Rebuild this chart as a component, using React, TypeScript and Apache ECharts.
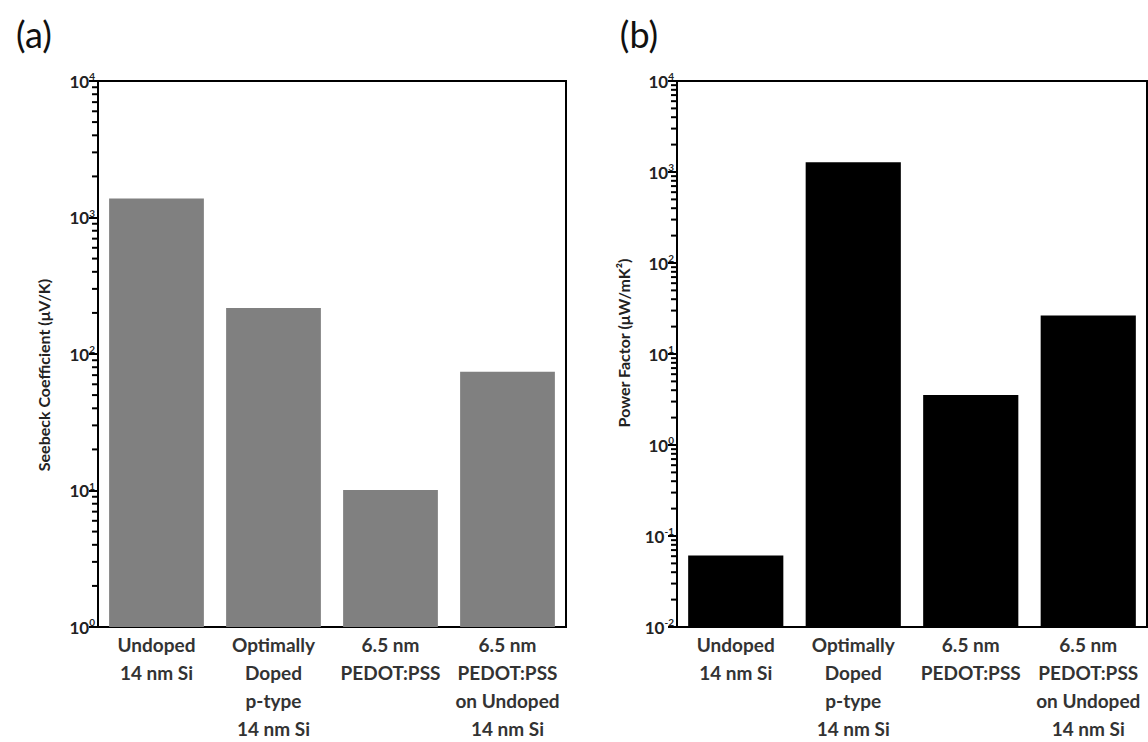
import React, { useEffect, useRef } from "react";
import * as echarts from "echarts";

const categories = [
  "Undoped\n14 nm Si",
  "Optimally\nDoped\np-type\n14 nm Si",
  "6.5 nm\nPEDOT:PSS",
  "6.5 nm\nPEDOT:PSS\non Undoped\n14 nm Si",
];
const seebeck = [1380, 217, 10.1, 74];
const powerFactor = [0.061, 1280, 3.54, 26.5];
const axisMinA = 1;
const axisMaxA = 10000;
const axisMinB = 0.01;
const axisMaxB = 10000;
const decadesA = [0, 1, 2, 3];
const decadesB = [-2, -1, 0, 1, 2, 3];
const minorMultipliers = [2, 3, 4, 5, 6, 7, 8, 9];

const minorTicks = (decades: number[]) =>
  decades.flatMap((d) => minorMultipliers.map((m) => [0, m * Math.pow(10, d)]));

const FONT = "Lato, 'Noto Sans', sans-serif";

const supLabel = (v: number) => {
  const e = Math.round(Math.log10(v));
  return `{b|10}{s|${e}}`;
};

const yAxisBase = (gridIndex: number, min: number, max: number, split: number) => ({
  type: "log",
  gridIndex,
  min,
  max,
  logBase: 10,
  splitNumber: split,
  axisLine: { show: true, lineStyle: { color: "#000", width: 2 } },
  axisTick: { show: true, inside: false, length: 9, lineStyle: { color: "#000", width: 2 } },
  splitLine: { show: false },
  axisLabel: {
    margin: 3,
    formatter: supLabel,
    rich: {
      b: { fontFamily: FONT, fontSize: 17, fontWeight: "bold", color: "#222" },
      s: { fontFamily: FONT, fontSize: 10, fontWeight: "bold", color: "#222", padding: [0, 0, 10, 0] },
    },
  },
});

const xAxisBase = (gridIndex: number) => ({
  type: "category",
  gridIndex,
  data: categories,
  axisLine: { show: true, lineStyle: { color: "#000", width: 2 } },
  axisTick: { show: false },
  axisLabel: {
    interval: 0,
    margin: 3,
    fontFamily: FONT,
    fontSize: 19,
    fontWeight: "bold",
    lineHeight: 28,
    color: "#333",
  },
});

const minorSeries = (idx: number, decades: number[]) => ({
  type: "custom",
  coordinateSystem: "cartesian2d",
  xAxisIndex: idx,
  yAxisIndex: idx,
  clip: false,
  silent: true,
  z: 10,
  dimensions: ["x", "y"],
  data: minorTicks(decades),
  renderItem: (params: any, api: any) => {
    const pt = api.coord([0, api.value(1)]);
    const band = api.size([1, 0])[0];
    const x0 = pt[0] - band / 2;
    const y = pt[1];
    return {
      type: "rect",
      shape: { x: x0 - 6, y: y - 1, width: 6, height: 2 },
      style: { fill: "#000" },
    };
  },
});

const barCustom = (idx: number, values: number[], axisMin: number, color: string) => ({
  type: "custom",
  coordinateSystem: "cartesian2d",
  xAxisIndex: idx,
  yAxisIndex: idx,
  z: 2,
  dimensions: ["x", "y"],
  data: values.map((v, i) => [i, v]),
  renderItem: (params: any, api: any) => {
    const i = api.value(0);
    const top = api.coord([i, api.value(1)]);
    const bottom = api.coord([i, axisMin]);
    const w = api.size([1, 0])[0] * 0.81;
    return {
      type: "rect",
      shape: { x: top[0] - w / 2, y: top[1], width: w, height: bottom[1] - top[1] },
      style: { fill: color },
    };
  },
});

export default function App() {
  const ref = useRef<HTMLDivElement>(null);
  useEffect(() => {
    if (!ref.current) return;
    const chart = echarts.init(ref.current, null, { renderer: "svg" });
    chart.setOption({
      animation: false,
      backgroundColor: "#fff",
      grid: [
        { left: 98, top: 81, width: 468, height: 550, show: true, borderColor: "#000", borderWidth: 2, backgroundColor: "transparent" },
        { left: 677, top: 81, width: 470, height: 550, show: true, borderColor: "#000", borderWidth: 2, backgroundColor: "transparent" },
      ],
      xAxis: [xAxisBase(0), xAxisBase(1)],
      yAxis: [
        yAxisBase(0, axisMinA, axisMaxA, 4),
        yAxisBase(1, axisMinB, axisMaxB, 6),
      ],
      series: [
        barCustom(0, seebeck, axisMinA, "#808080"),
        barCustom(1, powerFactor, axisMinB, "#000"),
        minorSeries(0, decadesA),
        minorSeries(1, decadesB),
      ],
      graphic: [
        {
          type: "text",
          x: 34,
          y: 34,
          style: { text: "(a)", font: `36px ${FONT}`, fill: "#111", align: "center", verticalAlign: "middle" },
        },
        {
          type: "text",
          x: 639,
          y: 34,
          style: { text: "(b)", font: `36px ${FONT}`, fill: "#111", align: "center", verticalAlign: "middle" },
        },
        {
          type: "text",
          x: 43,
          y: 375,
          rotation: Math.PI / 2,
          style: {
            text: "Seebeck Coefficient (μV/K)",
            font: `bold 16px ${FONT}`,
            fill: "#222",
            align: "center",
            verticalAlign: "middle",
          },
        },
        {
          type: "text",
          x: 623,
          y: 343,
          rotation: Math.PI / 2,
          style: {
            text: "Power Factor (μW/mK²)",
            font: `bold 16px ${FONT}`,
            fill: "#222",
            align: "center",
            verticalAlign: "middle",
          },
        },
      ],
    });
    return () => chart.dispose();
  }, []);
  return (
    <div
      ref={ref}
      style={{ position: "fixed", left: 0, top: 0, width: 1148, height: 742, background: "#fff" }}
    />
  );
}
